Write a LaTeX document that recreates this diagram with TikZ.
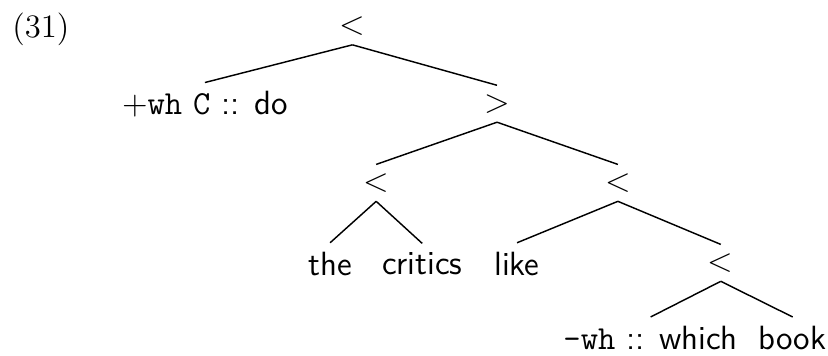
\documentclass[tikz,border=0pt]{standalone}
\usepackage{fontspec}
\usetikzlibrary{positioning}

\begin{document}
\begin{tikzpicture}[font=\sffamily\fontsize{11.6}{14}\selectfont,on grid,line width=0.5pt,inner sep=2.9pt]
 \useasboundingbox (-121.6pt,9.1pt) rectangle (164.1pt,-113.4pt);
 \node (N0) {<};
 \node[font=\rmfamily\fontsize{11.3}{13}\selectfont,left=107.5pt of N0,yshift=-0.9pt] (ex) {(31)};
 \node[below left=27pt and 50.9pt of N0] (N1) {+\texttt{wh} \texttt{C} :: do};
 \node[below right=26.7pt and 49.9pt of N0] (N2) {>};
 \node[below left=27.3pt and 41.7pt of N2] (N3) {<};
 \node[below right=27.3pt and 41.7pt of N2] (N4) {<};
 \node[below left=27.9pt and 15.9pt of N3] (N5) {the};
 \node[below right=27.9pt and 15.9pt of N3] (N6) {critics};
 \node[below left=27.9pt and 34.8pt of N4] (N7) {like};
 \node[below right=27.6pt and 35.5pt of N4] (N8) {<};
 \node[below left=25.9pt and 24.2pt of N8] (N9) {\texttt{-wh} :: which};
 \node[below right=25.9pt and 24.8pt of N8] (N10) {book};

 \path (N0.south) edge (N1.north) edge (N2.north)
 (N2.south) edge (N3.north) edge (N4.north)
 (N3.south) edge (N5.north) edge (N6.north)
 (N4.south) edge (N7.north) edge (N8.north)
 (N8.south) edge (N9.north) edge (N10.north);
\end{tikzpicture}
\end{document}
